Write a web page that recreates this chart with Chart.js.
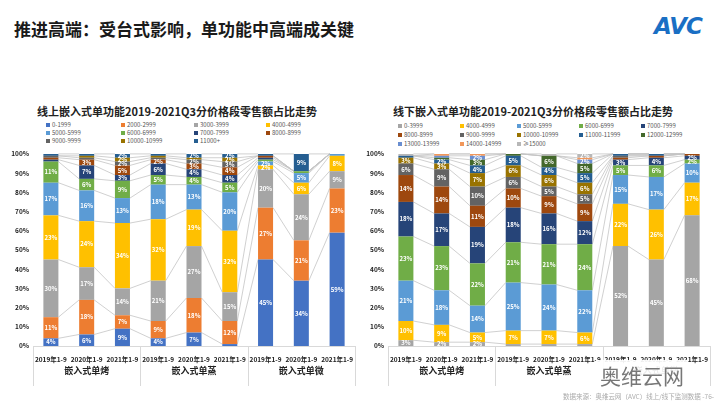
<!DOCTYPE html>
<html>
<head>
<meta charset="utf-8">
<script src="https://cdn.jsdelivr.net/npm/chart.js@4.4.1/dist/chart.umd.min.js"></script>
<style>
body{margin:0;width:720px;height:405px;background:#fff;position:relative;overflow:hidden;font-family:"Noto Sans CJK SC",sans-serif;}
.abs{position:absolute;white-space:nowrap;}
#title{left:14px;top:16px;font-size:17px;font-weight:700;color:#1a1a1a;}
#logo{left:654px;top:13px;font-size:23px;font-weight:900;font-style:italic;color:#1a6fc4;font-family:"DejaVu Sans",sans-serif;letter-spacing:-1px;}
.ctitle{font-size:11px;font-weight:700;color:#222;top:103px;}
.legend{display:grid;font-size:6px;color:#555;line-height:8px;}
.legend span i{display:inline-block;width:4px;height:4px;margin-right:2px;vertical-align:0px;}
canvas{position:absolute;top:146px;}
#wm{left:596px;top:360px;font-size:21px;color:#777;background:rgba(255,255,255,0.92);padding:0 4px;}
#src{right:6px;top:391px;font-size:6.5px;color:#aaa;}
</style>
</head>
<body>
<div id="title" class="abs">推进高端：受台式影响，单功能中高端成关键</div>
<div id="logo" class="abs">AVC</div>
<div class="abs ctitle" style="left:37px">线上嵌入式单功能2019-2021Q3分价格段零售额占比走势</div>
<div class="abs ctitle" style="left:393px">线下嵌入式单功能2019-2021Q3分价格段零售额占比走势</div>
<div id="legL" class="abs legend" style="left:46px;top:121px;grid-template-columns:75px 73px 72px 70px;"></div>
<div id="legR" class="abs legend" style="left:398px;top:121px;grid-template-columns:62px 57px 62px 62px 62px;line-height:9px;"></div>
<canvas id="chartL" width="360" height="250" style="left:0"></canvas>
<canvas id="chartR" width="360" height="250" style="left:360px"></canvas>
<div id="wm" class="abs">奥维云网</div>
<div id="src" class="abs">数据来源：奥维云网（AVC）线上/线下监测数据 -76-</div>
<script>
var periods = ['2019年1-9', '2020年1-9', '2021年1-9', '2019年1-9', '2020年1-9', '2021年1-9', '2019年1-9', '2020年1-9', '2021年1-9'];
var groups = ['嵌入式单烤', '嵌入式单蒸', '嵌入式单微'];

// 线上
var onlineNames = ['0-1999', '2000-2999', '3000-3999', '4000-4999', '5000-5999', '6000-6999', '7000-7999', '8000-8999', '9000-9999', '10000-10999', '11000+'];
var onlineColors = ['#4472C4', '#ED7D31', '#A5A5A5', '#FFC000', '#5B9BD5', '#70AD47', '#264478', '#9E480E', '#636363', '#997300', '#255E91'];
var on0_1999   = [4, 6, 9, 4, 7, 1, 45, 34, 59];
var on2000     = [11, 18, 7, 9, 18, 12, 27, 21, 23];
var on3000     = [30, 17, 14, 21, 27, 15, 20, 24, 9];
var on4000     = [23, 24, 34, 32, 19, 32, 2, 6, 8];
var on5000     = [17, 16, 13, 18, 13, 20, 2, 5, 1];
var on6000     = [11, 6, 9, 5, 4, 5, 1, 1, 0];
var on7000     = [1, 7, 3, 6, 4, 4, 1, 0, 0];
var on8000     = [1, 3, 5, 2, 3, 4, 1, 0, 0];
var on9000     = [1, 1, 2, 1, 2, 3, 0, 0, 0];
var on10000    = [0, 1, 2, 1, 1, 2, 0, 0, 0];
var on11000    = [1, 1, 2, 1, 2, 2, 1, 9, 0];

// 线下
var offlineNames = ['0-3999', '4000-4999', '5000-5999', '6000-6999', '7000-7999', '8000-8999', '9000-9999', '10000-10999', '11000-11999', '12000-12999', '13000-13999', '14000-14999', '≥15000'];
var offlineColors = ['#A5A5A5', '#FFC000', '#5B9BD5', '#70AD47', '#264478', '#9E480E', '#636363', '#997300', '#255E91', '#43682B', '#698ED0', '#F1975A', '#B7B7B7'];
var off0_3999  = [3, 2, 2, 1, 1, 1, 52, 45, 68];
var off4000    = [10, 9, 5, 7, 7, 6, 22, 26, 17];
var off5000    = [21, 18, 14, 25, 24, 22, 15, 17, 10];
var off6000    = [23, 23, 22, 21, 21, 24, 5, 6, 2];
var off7000    = [18, 17, 19, 18, 16, 12, 3, 4, 2];
var off8000    = [14, 14, 11, 10, 9, 9, 1, 1, 1];
var off9000    = [6, 9, 10, 6, 5, 5, 1, 0, 0];
var off10000   = [3, 3, 7, 6, 6, 6, 0, 0, 0];
var off11000   = [1, 2, 4, 5, 4, 5, 1, 1, 0];
var off12000   = [0, 1, 3, 1, 6, 5, 0, 0, 0];
var off13000   = [0, 1, 2, 0, 0, 2, 0, 0, 0];
var off14000   = [0, 1, 1, 0, 0, 1, 0, 0, 0];
var off15000   = [1, 0, 0, 0, 1, 2, 0, 0, 0];

var onlineValues = [on0_1999, on2000, on3000, on4000, on5000, on6000, on7000, on8000, on9000, on10000, on11000];
var offlineValues = [off0_3999, off4000, off5000, off6000, off7000, off8000, off9000, off10000, off11000, off12000, off13000, off14000, off15000];

var FONT = '"Noto Sans CJK SC", sans-serif';

function buildLegend(id, names, colors){
    var html = '';
    names.forEach(function(n, k){
        html += '<span><i style="background:' + colors[k] + '"></i>' + n + '</span>';
    });
    document.getElementById(id).innerHTML = html;
}

// excel style series lines between neighbouring bars
var seriesLines = {
    id: 'seriesLines',
    beforeDatasetsDraw: function(chart){
        var ctx = chart.ctx;
        ctx.save();
        ctx.strokeStyle = '#C4C4C4';
        ctx.lineWidth = 0.8;
        chart.data.datasets.forEach(function(ds, d){
            var bars = chart.getDatasetMeta(d).data;
            for (var i = 0; i < bars.length - 1; i++) {
                var a = bars[i], b = bars[i + 1];
                ctx.beginPath();
                ctx.moveTo(a.x + a.width / 2, a.y);
                ctx.lineTo(b.x - b.width / 2, b.y);
                ctx.stroke();
            }
        });
        ctx.restore();
    }
};

var segmentLabels = {
    id: 'segmentLabels',
    afterDatasetsDraw: function(chart){
        var ctx = chart.ctx;
        ctx.save();
        ctx.fillStyle = '#fff';
        ctx.font = 'bold 6px ' + FONT;
        ctx.textAlign = 'center';
        ctx.textBaseline = 'middle';
        chart.data.datasets.forEach(function(ds, d){
            chart.getDatasetMeta(d).data.forEach(function(bar, i){
                var v = ds.data[i];
                if (v >= 2) ctx.fillText(v + '%', bar.x, (bar.y + bar.base) / 2);
            });
        });
        ctx.restore();
    }
};

var groupAxis = {
    id: 'groupAxis',
    afterDraw: function(chart){
        var ctx = chart.ctx, x = chart.scales.x, area = chart.chartArea;
        ctx.save();
        ctx.strokeStyle = '#D9D9D9';
        ctx.lineWidth = 1;
        var cuts = [area.left, (x.getPixelForValue(2) + x.getPixelForValue(3)) / 2, (x.getPixelForValue(5) + x.getPixelForValue(6)) / 2, area.right];
        cuts.forEach(function(c){
            ctx.beginPath();
            ctx.moveTo(Math.round(c) + 0.5, area.bottom);
            ctx.lineTo(Math.round(c) + 0.5, area.bottom + 40);
            ctx.stroke();
        });
        ctx.fillStyle = '#222';
        ctx.font = 'bold 9px ' + FONT;
        ctx.textAlign = 'center';
        ctx.textBaseline = 'middle';
        groups.forEach(function(g, k){
            var cx = (x.getPixelForValue(3 * k) + x.getPixelForValue(3 * k + 2)) / 2;
            ctx.fillText(g, cx, area.bottom + 25);
        });
        ctx.restore();
    }
};

function drawChart(id, names, colors, values, yWidth, padRight){
    var datasets = names.map(function(n, k){
        return {
            label: n,
            data: values[k],
            backgroundColor: colors[k],
            barPercentage: 0.42,
            categoryPercentage: 1
        };
    });
    new Chart(document.getElementById(id), {
        type: 'bar',
        data: { labels: periods, datasets: datasets },
        options: {
            responsive: false,
            animation: false,
            layout: { padding: { top: 6, right: padRight, bottom: 2, left: 0 } },
            plugins: { legend: { display: false }, tooltip: { enabled: false } },
            scales: {
                x: {
                    stacked: true,
                    grid: { display: false },
                    border: { color: '#D9D9D9' },
                    ticks: { color: '#222', font: { size: 6.5, weight: 'bold', family: FONT }, maxRotation: 0, autoSkip: false, padding: 2 },
                    afterFit: function(s){ s.height = 48; }
                },
                y: {
                    stacked: true,
                    min: 0,
                    max: 100,
                    grid: { display: false, drawTicks: false },
                    border: { display: false },
                    ticks: { stepSize: 10, color: '#222', padding: 4, font: { size: 6.5, weight: 'bold', family: FONT }, callback: function(v){ return v + '%'; } },
                    afterFit: function(s){ s.width = yWidth; }
                }
            }
        },
        plugins: [seriesLines, segmentLabels, groupAxis]
    });
}

buildLegend('legL', onlineNames, onlineColors);
buildLegend('legR', offlineNames, offlineColors);
drawChart('chartL', onlineNames, onlineColors, onlineValues, 33, 5);
drawChart('chartR', offlineNames, offlineColors, offlineValues, 28, 10);
</script>
</body>
</html>
